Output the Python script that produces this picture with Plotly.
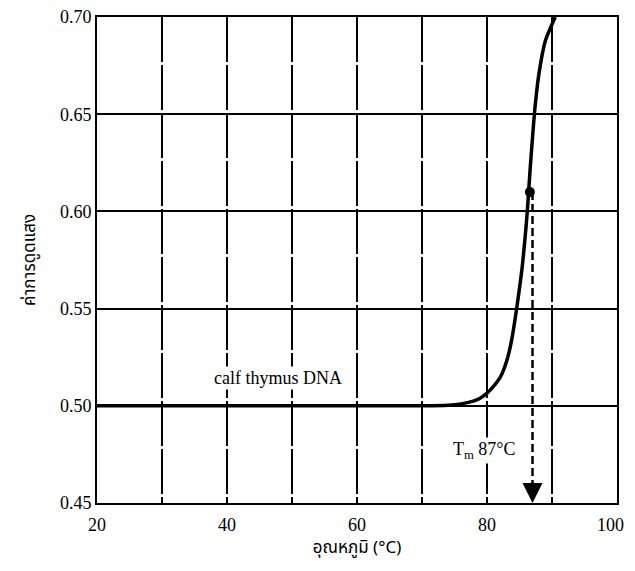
import plotly.graph_objects as go

# melting curve of calf thymus DNA
temp = [20, 40, 60, 70, 74, 76, 78, 79, 80, 81, 82, 82.5, 83.2, 83.8, 84.6, 85.4, 85.9, 86.2, 86.6, 87.0, 87.4, 88.0, 89.0, 90.5]
absorb = [0.500, 0.500, 0.500, 0.500, 0.5003, 0.501, 0.5025, 0.504, 0.5065, 0.5100, 0.5145, 0.518, 0.525, 0.534, 0.551, 0.571, 0.588, 0.600, 0.620, 0.638, 0.654, 0.671, 0.688, 0.700]

tm = 87
tm_abs = 0.61
dot_temp = 86.6

x_ticks = [20, 30, 40, 50, 60, 70, 80, 90, 100]
x_labels = ["20", "", "40", "", "60", "", "80", "", ""]
x_last_label = "100"
y_ticks = [0.45, 0.50, 0.55, 0.60, 0.65, 0.70]
y_labels = ["0.45", "0.50", "0.55", "0.60", "0.65", "0.70"]

serif = "Liberation Serif, Times New Roman, serif"
thai = "Noto Sans Thai, Noto Serif Thai, Loma, Garuda, Tlwg Typo, Noto Sans, sans-serif"

fig = go.Figure()

fig.add_trace(go.Scatter(
    x=temp, y=absorb,
    mode="lines",
    line=dict(color="black", width=3.5, shape="spline", smoothing=0.6),
    showlegend=False
))

# dashed drop line from Tm point to the axis
fig.add_trace(go.Scatter(
    x=[tm, tm], y=[tm_abs, y_ticks[0]],
    mode="lines",
    line=dict(color="black", width=2.5, dash="8px,4px"),
    showlegend=False
))

fig.add_trace(go.Scatter(
    x=[dot_temp], y=[tm_abs],
    mode="markers",
    marker=dict(color="black", size=10),
    showlegend=False
))

fig.add_annotation(
    x=tm, y=y_ticks[0], ax=0, ay=-16,
    showarrow=True, arrowhead=2, arrowsize=1.6, arrowwidth=2.5,
    arrowcolor="black", text=""
)

fig.add_annotation(
    x=47.8, y=0.5144, text="calf thymus DNA", showarrow=False,
    font=dict(family=serif, size=18, color="black"), bgcolor="white"
)

fig.add_annotation(
    x=79.6, y=0.477, text="T<sub>m</sub> 87°C", showarrow=False,
    font=dict(family=serif, size=18, color="black"), bgcolor="white"
)

# last x tick label, kept inside the page edge
fig.add_annotation(
    x=x_ticks[-1], xref="x", y=0, yref="paper",
    xanchor="right", yanchor="top", xshift=9, yshift=-10,
    text=x_last_label, showarrow=False,
    font=dict(family=serif, size=18, color="black")
)

fig.update_xaxes(
    range=[20, 100], tickvals=x_ticks, ticktext=x_labels, automargin=False,
    ticklabeloverflow="allow", ticklabelstandoff=4,
    showline=True, linecolor="black", linewidth=2, mirror=True,
    showgrid=True, gridcolor="black", gridwidth=1.5, griddash="45px,3px",
    ticks="", zeroline=False,
    tickfont=dict(family=serif, size=18, color="black"),
    title=dict(text="อุณหภูมิ (°C)", font=dict(family=thai, size=17, color="black"), standoff=2)
)

fig.update_yaxes(
    range=[0.45, 0.70], tickvals=y_ticks, ticktext=y_labels, automargin=False,
    ticklabeloverflow="allow",
    showline=True, linecolor="black", linewidth=2, mirror=True,
    showgrid=True, gridcolor="black", gridwidth=1.5,
    ticks="", zeroline=False,
    tickfont=dict(family=serif, size=18, color="black"),
    title=dict(text="ค่าการดูดแสง", font=dict(family=thai, size=17, color="black"), standoff=20)
)

# the page body adds an 8px margin, so the figure is sized to fit the window
fig.update_layout(
    width=627, height=555,
    margin=dict(l=89, r=18, t=9, b=60),
    plot_bgcolor="white", paper_bgcolor="white"
)

fig.write_html("out.html")
